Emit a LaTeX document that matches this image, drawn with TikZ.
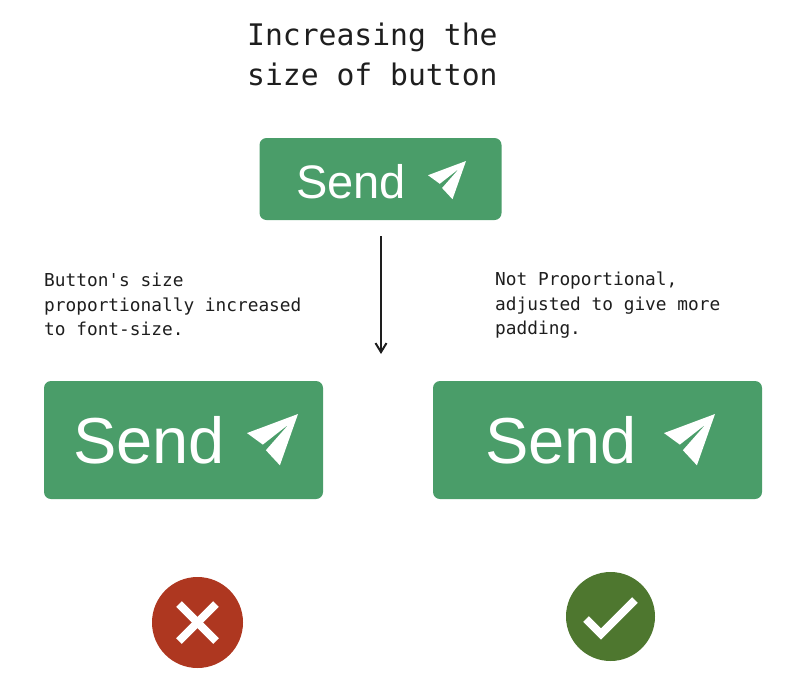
\documentclass[tikz,border=0pt]{standalone}
\usetikzlibrary{arrows.meta}
\usepackage{fontspec}
\setmainfont{Liberation Sans}
\newfontfamily\notefont{DejaVu Sans Mono}
\definecolor{btn}{HTML}{4A9D69}
\definecolor{bad}{HTML}{AE3720}
\definecolor{good}{HTML}{4E772F}
\definecolor{ink}{HTML}{1E1E1E}
\tikzset{
  x=1pt,y=-1pt,
  button/.style={fill=btn,rounded corners=7pt,inner sep=0pt,minimum height=#1},
  label/.style={text=white,inner sep=0pt,anchor=base west},
  headtext/.style={text=ink,inner sep=0pt,anchor=north west,align=left,font=\notefont\fontsize{29.7}{40}\selectfont},
  notetext/.style={text=ink,inner sep=0pt,anchor=north west,align=left,font=\notefont\fontsize{17.8}{24.5}\selectfont},
  badge/.style={circle,inner sep=0pt,minimum size=#1},
  mark stroke/.style={draw=white,line width=8pt,line cap=butt,line join=miter},
  pics/plane/.style={code={
    \begin{scope}[x=#1pt,y=-#1pt]
    \fill[white] (1,0) -- (0,.374) -- (.31,.6) -- (.82,.2) -- (.37,.71) -- (.645,1.006) -- cycle;
    \end{scope}
  }}
}
\begin{document}
\begin{tikzpicture}
\useasboundingbox (0,0) rectangle (800,691);
\node[headtext] (title) at (247,23) {Increasing the\\size of button};
\node[button=82pt,minimum width=242pt] (top) at (380.5,179) {};
\node[button=118pt,minimum width=279pt] (left) at (183.5,440) {};
\node[button=118pt,minimum width=329pt] (right) at (597.5,440) {};
\node[label,font=\fontsize{47}{47}\selectfont] (ltop) at (296,198) {Send};
\node[label,font=\fontsize{65}{65}\selectfont] (lleft) at (73,463) {Send};
\node[label,font=\fontsize{65}{65}\selectfont] (lright) at (485,463) {Send};
\pic at (428,161) {plane=38};
\pic at (247,414) {plane=51};
\pic at (664,414) {plane=51};
\node[notetext] (nleft) at (44,273) {Button's size\\proportionally increased\\to font-size.};
\node[notetext] (nright) at (495,272) {Not Proportional,\\adjusted to give more\\padding.};
\coordinate (tip) at (381,354);
\draw[ink,line width=2pt,shorten <=16pt,-{Straight Barb[length=9pt,width=11pt,line width=2pt]}] (top.south -| tip) -- (tip);
\node[badge=91pt,fill=bad] (no) at (197.5,622.5) {};
\node[badge=89pt,fill=good] (yes) at (610.5,616.5) {};
\draw[mark stroke] (179,604) -- (216,641);
\draw[mark stroke] (216,604) -- (179,641);
\draw[mark stroke] (586,619) -- (601,634) -- (635,600);
\end{tikzpicture}
\end{document}
